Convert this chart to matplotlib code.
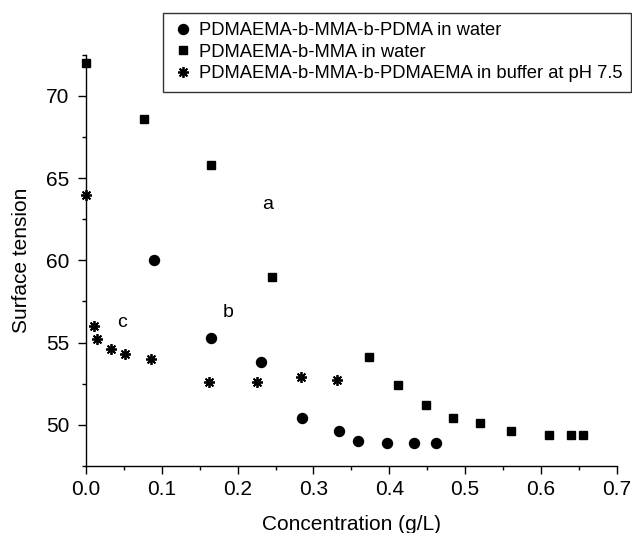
import matplotlib
matplotlib.use("Agg")
import matplotlib.pyplot as plt
from matplotlib.ticker import MultipleLocator

plt.rcParams['font.family'] = ['Liberation Sans', 'DejaVu Sans']

# Data
circ_x = [0.090, 0.165, 0.231, 0.2855, 0.3335, 0.359, 0.397, 0.432, 0.462]
circ_y = [60.0, 55.3, 53.8, 50.4, 49.6, 49.0, 48.9, 48.9, 48.9]

sq_x = [0.0, 0.076, 0.165, 0.245, 0.3735, 0.412, 0.449, 0.484, 0.519, 0.560, 0.611, 0.640, 0.655]
sq_y = [72.0, 68.6, 65.8, 59.0, 54.1, 52.4, 51.2, 50.4, 50.1, 49.6, 49.4, 49.4, 49.4]

st_x = [0.0, 0.010, 0.014, 0.033, 0.0515, 0.086, 0.162, 0.226, 0.283, 0.331]
st_y = [64.0, 56.0, 55.2, 54.6, 54.3, 54.0, 52.6, 52.6, 52.9, 52.7]

labels = ["PDMAEMA-b-MMA-b-PDMA in water",
          "PDMAEMA-b-MMA in water",
          "PDMAEMA-b-MMA-b-PDMAEMA in buffer at pH 7.5"]
annotations = [("a", 0.240, 63.4), ("b", 0.187, 56.8), ("c", 0.0475, 56.2)]

fig = plt.figure(figsize=(6.32, 5.33), dpi=100)
ax = fig.add_axes([0.136, 0.126, 0.840, 0.771])

h1, = ax.plot(circ_x, circ_y, linestyle='none', marker='o', ms=7.2, color='black', clip_on=False)
h2, = ax.plot(sq_x, sq_y, linestyle='none', marker='s', ms=6.4, color='black', clip_on=False)
h3, = ax.plot(st_x, st_y, linestyle='none', marker=(8, 2, 0), ms=7.8, mew=1.3, color='black', clip_on=False)

for t, x, y in annotations:
    ax.text(x, y, t, fontsize=14, ha='center', va='center')

ax.set_xlim(0, 0.7)
ax.set_ylim(47.5, 72.5)
ax.xaxis.set_minor_locator(MultipleLocator(0.05))
ax.yaxis.set_minor_locator(MultipleLocator(2.5))
ax.set_xticks([0, 0.1, 0.2, 0.3, 0.4, 0.5, 0.6, 0.7])
ax.set_xticklabels(["0.0", "0.1", "0.2", "0.3", "0.4", "0.5", "0.6", "0.7"])
ax.set_yticks([50, 55, 60, 65, 70])

for s in ['top', 'right']:
    ax.spines[s].set_visible(False)
for s in ['left', 'bottom']:
    ax.spines[s].set_linewidth(1.0)

ax.tick_params(which='major', direction='out', length=6, width=1.0, labelsize=15, pad=4)
ax.tick_params(axis='y', which='major', pad=6)
ax.tick_params(which='minor', direction='out', length=3, width=1.0)

ax.set_xlabel("Concentration (g/L)", fontsize=15, labelpad=12)
ax.set_ylabel("Surface tension", fontsize=15, labelpad=11)

leg = fig.legend([h1, h2, h3], labels, loc='upper left',
                 bbox_to_anchor=(163 / 632, 1 - 13 / 533),
                 fontsize=13.2, frameon=True, fancybox=False,
                 handletextpad=0.25, borderpad=0.5, labelspacing=0.25,
                 handlelength=1.2, borderaxespad=0)
leg.get_frame().set_edgecolor('black')
leg.get_frame().set_linewidth(1.0)

fig.savefig("out.png", dpi=100)
